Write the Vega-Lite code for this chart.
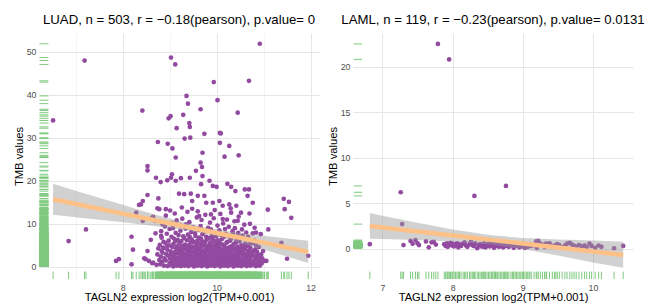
{
"$schema": "https://vega.github.io/schema/vega-lite/v6.json",
"padding": {"left": 13, "top": 13, "right": 0, "bottom": 0},
"spacing": 8,
"config": {
  "font": "Liberation Sans",
  "view": {"stroke": null},
  "axis": {"labelFont": "Liberation Sans", "titleFont": "Liberation Sans", "labelFontSize": 8.8, "labelColor": "#4d4d4d", "titleFontSize": 11.2, "titleFontWeight": "normal", "titleColor": "#000000", "domain": false, "ticks": false, "grid": true, "labelOverlap": false, "format": "d"},
  "title": {"font": "Liberation Sans", "fontSize": 13.2, "fontWeight": "normal", "color": "#000000", "anchor": "middle", "offset": 5.7}
},
"datasets": {
"luad": [
{"x":6.52,"y":34.0},{"x":7.19,"y":47.9},{"x":6.85,"y":6.0},{"x":7.22,"y":8.7},{"x":7.86,"y":1.4},{"x":7.92,"y":1.8},{"x":8.19,"y":0.6},{"x":8.19,"y":7.0},{"x":8.22,"y":4.0},{"x":8.29,"y":12.6},{"x":8.42,"y":36.3},{"x":8.39,"y":14.5},{"x":8.43,"y":15.3},{"x":8.43,"y":10.7},{"x":8.46,"y":2.0},{"x":8.53,"y":3.7},{"x":8.53,"y":23.4},{"x":8.53,"y":22.4},{"x":8.53,"y":16.7},{"x":8.56,"y":1.4},{"x":8.63,"y":0.85},{"x":8.60,"y":6.3},{"x":8.65,"y":11.6},{"x":8.69,"y":10.7},{"x":8.71,"y":20.7},{"x":8.75,"y":29.0},{"x":8.76,"y":15.9},{"x":8.78,"y":13.4},{"x":8.81,"y":19.7},{"x":8.82,"y":7.2},{"x":8.85,"y":9.9},{"x":8.92,"y":13.4},{"x":8.95,"y":4.9},{"x":8.96,"y":28.6},{"x":8.98,"y":34.5},{"x":9.02,"y":35.0},{"x":9.03,"y":48.6},{"x":9.03,"y":20.7},{"x":9.05,"y":21.5},{"x":9.06,"y":27.5},{"x":9.12,"y":47.0},{"x":9.13,"y":25.4},{"x":9.15,"y":32.2},{"x":9.13,"y":20.0},{"x":9.24,"y":20.6},{"x":9.20,"y":17.0},{"x":9.29,"y":35.3},{"x":9.32,"y":29.8},{"x":9.36,"y":39.7},{"x":9.39,"y":37.9},{"x":9.42,"y":33.4},{"x":9.43,"y":32.5},{"x":9.44,"y":30.0},{"x":9.43,"y":20.7},{"x":9.45,"y":17.0},{"x":9.48,"y":15.3},{"x":9.56,"y":22.3},{"x":9.66,"y":36.6},{"x":9.66,"y":24.2},{"x":9.69,"y":23.2},{"x":9.67,"y":19.2},{"x":9.70,"y":26.5},{"x":9.74,"y":30.9},{"x":9.85,"y":20.0},{"x":9.94,"y":42.9},{"x":10.02,"y":38.7},{"x":10.07,"y":31.1},{"x":10.07,"y":28.8},{"x":10.17,"y":25.6},{"x":10.27,"y":28.1},{"x":10.23,"y":19.3},{"x":10.45,"y":35.8},{"x":10.47,"y":25.9},{"x":10.69,"y":43.2},{"x":10.92,"y":51.8},{"x":10.60,"y":18.0},{"x":10.69,"y":18.0},{"x":10.77,"y":14.9},{"x":11.09,"y":13.3},{"x":11.10,"y":8.7},{"x":11.43,"y":15.8},{"x":11.54,"y":15.1},{"x":11.45,"y":13.4},{"x":11.59,"y":11.4},{"x":11.38,"y":5.6},{"x":11.50,"y":1.9},{"x":11.95,"y":2.6},{"x":11.06,"y":1.4},{"x":10.99,"y":3.7},{"x":9.70,"y":21.1},{"x":9.92,"y":18.8},{"x":10.00,"y":18.6},{"x":10.31,"y":18.6},{"x":10.40,"y":17.6},{"x":10.66,"y":16.5},{"x":9.31,"y":16.9},{"x":9.60,"y":16.5},{"x":9.74,"y":16.5},{"x":9.78,"y":14.9},{"x":9.92,"y":14.9},{"x":10.06,"y":15.3},{"x":10.13,"y":14.2},{"x":10.27,"y":14.5},{"x":10.42,"y":14.2},{"x":10.52,"y":12.6},{"x":10.31,"y":12.6},{"x":9.88,"y":12.2},{"x":9.63,"y":11.8},{"x":10.13,"y":11.1},{"x":10.45,"y":10.7},{"x":10.81,"y":9.1},{"x":10.84,"y":8.0},{"x":10.81,"y":6.0},{"x":11.02,"y":1.4},{"x":10.95,"y":2.9},{"x":10.70,"y":12.4},{"x":8.95,"y":20.1},{"x":8.35,"y":14.4},{"x":8.74,"y":13.6},{"x":8.63,"y":11.4},{"x":8.49,"y":1.8},{"x":8.65,"y":1.0},{"x":8.83,"y":3.7},{"x":8.86,"y":4.5},{"x":8.87,"y":5.8},{"x":10.09,"y":31.0},
{"x":8.80,"y":0.6},{"x":8.81,"y":2.4},{"x":8.79,"y":5.1},{"x":8.82,"y":8.3},
{"x":8.84,"y":1.2},{"x":8.85,"y":3.3},{"x":8.83,"y":6.8},
{"x":8.88,"y":0.3},{"x":8.89,"y":2.0},{"x":8.87,"y":4.4},{"x":8.90,"y":9.4},
{"x":8.92,"y":1.5},{"x":8.93,"y":3.0},{"x":8.91,"y":5.6},{"x":8.94,"y":7.7},{"x":8.92,"y":11.9},
{"x":8.96,"y":0.2},{"x":8.97,"y":2.6},{"x":8.95,"y":4.0},{"x":8.98,"y":6.1},
{"x":9.00,"y":0.9},{"x":9.01,"y":1.9},{"x":9.02,"y":3.6},{"x":8.99,"y":5.0},{"x":9.00,"y":8.8},{"x":9.01,"y":13.1},
{"x":9.04,"y":0.4},{"x":9.05,"y":1.4},{"x":9.03,"y":2.9},{"x":9.06,"y":4.6},{"x":9.04,"y":7.0},{"x":9.05,"y":10.2},
{"x":9.08,"y":0.1},{"x":9.09,"y":1.1},{"x":9.07,"y":2.3},{"x":9.10,"y":3.4},{"x":9.08,"y":5.3},{"x":9.09,"y":6.6},{"x":9.07,"y":9.0},
{"x":9.12,"y":0.7},{"x":9.13,"y":1.6},{"x":9.11,"y":2.8},{"x":9.14,"y":4.2},{"x":9.12,"y":5.9},{"x":9.13,"y":7.9},{"x":9.11,"y":12.4},
{"x":9.16,"y":0.3},{"x":9.17,"y":1.3},{"x":9.15,"y":2.1},{"x":9.18,"y":3.2},{"x":9.16,"y":4.8},{"x":9.17,"y":6.3},{"x":9.15,"y":10.8},
{"x":9.20,"y":0.5},{"x":9.21,"y":1.0},{"x":9.19,"y":1.8},{"x":9.22,"y":2.7},{"x":9.20,"y":3.9},{"x":9.21,"y":5.4},{"x":9.19,"y":7.4},{"x":9.22,"y":9.7},
{"x":9.24,"y":0.2},{"x":9.25,"y":1.2},{"x":9.23,"y":2.2},{"x":9.26,"y":3.5},{"x":9.24,"y":4.4},{"x":9.25,"y":6.0},{"x":9.23,"y":8.4},{"x":9.26,"y":13.8},
{"x":9.28,"y":0.8},{"x":9.29,"y":1.7},{"x":9.27,"y":2.5},{"x":9.30,"y":3.1},{"x":9.28,"y":4.9},{"x":9.29,"y":7.1},{"x":9.27,"y":11.2},
{"x":9.32,"y":0.3},{"x":9.33,"y":0.9},{"x":9.31,"y":2.0},{"x":9.34,"y":3.0},{"x":9.32,"y":4.1},{"x":9.33,"y":5.2},{"x":9.31,"y":6.7},{"x":9.34,"y":8.9},
{"x":9.36,"y":0.6},{"x":9.37,"y":1.5},{"x":9.35,"y":2.4},{"x":9.38,"y":3.7},{"x":9.36,"y":4.6},{"x":9.37,"y":6.2},{"x":9.35,"y":9.9},{"x":9.38,"y":12.8},
{"x":9.40,"y":0.2},{"x":9.41,"y":1.1},{"x":9.39,"y":1.9},{"x":9.42,"y":2.9},{"x":9.40,"y":3.8},{"x":9.41,"y":5.0},{"x":9.39,"y":7.5},{"x":9.42,"y":10.4},
{"x":9.44,"y":0.7},{"x":9.45,"y":1.4},{"x":9.43,"y":2.6},{"x":9.46,"y":3.3},{"x":9.44,"y":4.3},{"x":9.45,"y":5.7},{"x":9.43,"y":6.9},{"x":9.46,"y":8.1},
{"x":9.48,"y":0.4},{"x":9.49,"y":1.0},{"x":9.47,"y":1.7},{"x":9.50,"y":2.3},{"x":9.48,"y":3.6},{"x":9.49,"y":4.7},{"x":9.47,"y":6.4},{"x":9.50,"y":9.2},{"x":9.48,"y":13.5},
{"x":9.52,"y":0.1},{"x":9.53,"y":0.8},{"x":9.51,"y":1.6},{"x":9.54,"y":2.8},{"x":9.52,"y":3.4},{"x":9.53,"y":4.5},{"x":9.51,"y":5.8},{"x":9.54,"y":7.8},
{"x":9.56,"y":0.5},{"x":9.57,"y":1.3},{"x":9.55,"y":2.1},{"x":9.58,"y":3.0},{"x":9.56,"y":4.0},{"x":9.57,"y":5.3},{"x":9.55,"y":7.2},{"x":9.58,"y":11.5},
{"x":9.60,"y":0.3},{"x":9.61,"y":0.9},{"x":9.59,"y":1.8},{"x":9.62,"y":2.5},{"x":9.60,"y":3.5},{"x":9.61,"y":4.6},{"x":9.59,"y":6.1},{"x":9.62,"y":8.6},{"x":9.60,"y":12.9},
{"x":9.64,"y":0.6},{"x":9.65,"y":1.2},{"x":9.63,"y":2.2},{"x":9.66,"y":3.2},{"x":9.64,"y":4.2},{"x":9.65,"y":5.5},{"x":9.63,"y":6.8},{"x":9.66,"y":9.5},
{"x":9.68,"y":0.2},{"x":9.69,"y":1.0},{"x":9.67,"y":1.6},{"x":9.70,"y":2.7},{"x":9.68,"y":3.9},{"x":9.69,"y":4.9},{"x":9.67,"y":6.5},{"x":9.70,"y":7.6},{"x":9.68,"y":10.9},
{"x":9.72,"y":0.4},{"x":9.73,"y":1.4},{"x":9.71,"y":2.0},{"x":9.74,"y":2.9},{"x":9.72,"y":3.7},{"x":9.73,"y":5.1},{"x":9.71,"y":5.9},{"x":9.74,"y":8.2},
{"x":9.76,"y":0.7},{"x":9.77,"y":1.1},{"x":9.75,"y":1.9},{"x":9.78,"y":2.6},{"x":9.76,"y":3.3},{"x":9.77,"y":4.4},{"x":9.75,"y":5.6},{"x":9.78,"y":7.0},{"x":9.76,"y":12.1},
{"x":9.80,"y":0.1},{"x":9.81,"y":0.8},{"x":9.79,"y":1.5},{"x":9.82,"y":2.4},{"x":9.80,"y":3.6},{"x":9.81,"y":4.8},{"x":9.79,"y":6.3},{"x":9.82,"y":9.1},
{"x":9.84,"y":0.5},{"x":9.85,"y":1.3},{"x":9.83,"y":2.1},{"x":9.86,"y":3.1},{"x":9.84,"y":4.1},{"x":9.85,"y":5.3},{"x":9.83,"y":6.7},{"x":9.86,"y":10.3},
{"x":9.88,"y":0.3},{"x":9.89,"y":0.9},{"x":9.87,"y":1.7},{"x":9.90,"y":2.8},{"x":9.88,"y":3.4},{"x":9.89,"y":4.5},{"x":9.87,"y":5.7},{"x":9.90,"y":7.3},{"x":9.88,"y":8.7},
{"x":9.92,"y":0.6},{"x":9.93,"y":1.2},{"x":9.91,"y":2.3},{"x":9.94,"y":3.0},{"x":9.92,"y":4.0},{"x":9.93,"y":5.0},{"x":9.91,"y":6.6},{"x":9.94,"y":11.3},
{"x":9.96,"y":0.2},{"x":9.97,"y":1.0},{"x":9.95,"y":1.8},{"x":9.98,"y":2.5},{"x":9.96,"y":3.8},{"x":9.97,"y":4.7},{"x":9.95,"y":6.0},{"x":9.98,"y":7.9},{"x":9.96,"y":13.2},
{"x":10.00,"y":0.4},{"x":10.01,"y":1.4},{"x":9.99,"y":2.0},{"x":10.02,"y":3.2},{"x":10.00,"y":4.3},{"x":10.01,"y":5.4},{"x":9.99,"y":7.1},{"x":10.02,"y":9.6},
{"x":10.04,"y":0.7},{"x":10.05,"y":1.1},{"x":10.03,"y":1.9},{"x":10.06,"y":2.7},{"x":10.04,"y":3.5},{"x":10.05,"y":4.6},{"x":10.03,"y":6.2},{"x":10.06,"y":8.5},
{"x":10.08,"y":0.1},{"x":10.09,"y":0.9},{"x":10.07,"y":1.6},{"x":10.10,"y":2.4},{"x":10.08,"y":3.3},{"x":10.09,"y":4.2},{"x":10.07,"y":5.5},{"x":10.10,"y":7.4},{"x":10.08,"y":12.3},
{"x":10.12,"y":0.5},{"x":10.13,"y":1.3},{"x":10.11,"y":2.2},{"x":10.14,"y":2.9},{"x":10.12,"y":3.9},{"x":10.13,"y":5.2},{"x":10.11,"y":6.4},{"x":10.14,"y":10.1},
{"x":10.16,"y":0.3},{"x":10.17,"y":0.8},{"x":10.15,"y":1.7},{"x":10.18,"y":2.6},{"x":10.16,"y":3.7},{"x":10.17,"y":4.8},{"x":10.15,"y":6.9},{"x":10.18,"y":8.8},
{"x":10.20,"y":0.6},{"x":10.21,"y":1.2},{"x":10.19,"y":2.1},{"x":10.22,"y":3.1},{"x":10.20,"y":4.1},{"x":10.21,"y":5.6},{"x":10.19,"y":7.7},{"x":10.22,"y":11.0},
{"x":10.24,"y":0.2},{"x":10.25,"y":1.0},{"x":10.23,"y":1.8},{"x":10.26,"y":2.8},{"x":10.24,"y":3.6},{"x":10.25,"y":4.4},{"x":10.23,"y":5.8},{"x":10.26,"y":9.3},
{"x":10.28,"y":0.4},{"x":10.29,"y":1.5},{"x":10.27,"y":2.3},{"x":10.30,"y":3.4},{"x":10.28,"y":4.6},{"x":10.29,"y":6.1},{"x":10.27,"y":7.2},{"x":10.30,"y":13.6},
{"x":10.32,"y":0.8},{"x":10.33,"y":1.1},{"x":10.31,"y":1.9},{"x":10.34,"y":2.5},{"x":10.32,"y":3.8},{"x":10.33,"y":4.9},{"x":10.31,"y":6.6},{"x":10.34,"y":8.3},
{"x":10.36,"y":0.1},{"x":10.37,"y":0.9},{"x":10.35,"y":1.6},{"x":10.38,"y":3.0},{"x":10.36,"y":4.0},{"x":10.37,"y":5.3},{"x":10.35,"y":7.6},{"x":10.38,"y":10.6},
{"x":10.40,"y":0.5},{"x":10.41,"y":1.3},{"x":10.39,"y":2.2},{"x":10.42,"y":2.9},{"x":10.40,"y":4.3},{"x":10.41,"y":5.7},{"x":10.39,"y":9.0},
{"x":10.44,"y":0.3},{"x":10.45,"y":1.0},{"x":10.43,"y":1.8},{"x":10.46,"y":2.7},{"x":10.44,"y":3.5},{"x":10.45,"y":4.7},{"x":10.43,"y":6.3},{"x":10.46,"y":7.9},
{"x":10.48,"y":0.7},{"x":10.49,"y":1.4},{"x":10.47,"y":2.4},{"x":10.50,"y":3.3},{"x":10.48,"y":4.2},{"x":10.49,"y":5.9},{"x":10.47,"y":11.7},
{"x":10.52,"y":0.2},{"x":10.53,"y":1.1},{"x":10.51,"y":2.0},{"x":10.54,"y":3.1},{"x":10.52,"y":3.9},{"x":10.53,"y":5.0},{"x":10.51,"y":6.8},{"x":10.54,"y":8.7},
{"x":10.56,"y":0.4},{"x":10.57,"y":1.2},{"x":10.55,"y":1.7},{"x":10.58,"y":2.6},{"x":10.56,"y":3.6},{"x":10.57,"y":4.5},{"x":10.55,"y":7.3},
{"x":10.60,"y":0.6},{"x":10.61,"y":0.9},{"x":10.59,"y":1.9},{"x":10.62,"y":2.8},{"x":10.60,"y":4.1},{"x":10.61,"y":5.4},{"x":10.59,"y":9.8},
{"x":10.64,"y":0.2},{"x":10.65,"y":1.3},{"x":10.63,"y":2.3},{"x":10.66,"y":3.4},{"x":10.64,"y":4.8},{"x":10.65,"y":6.5},{"x":10.63,"y":8.0},
{"x":10.68,"y":0.5},{"x":10.69,"y":1.0},{"x":10.67,"y":1.8},{"x":10.70,"y":2.9},{"x":10.68,"y":3.8},{"x":10.69,"y":5.2},{"x":10.67,"y":7.0},
{"x":10.72,"y":0.3},{"x":10.73,"y":1.4},{"x":10.71,"y":2.1},{"x":10.74,"y":3.2},{"x":10.72,"y":4.4},{"x":10.73,"y":6.0},{"x":10.71,"y":10.0},
{"x":10.76,"y":0.7},{"x":10.77,"y":1.1},{"x":10.75,"y":2.5},{"x":10.78,"y":3.7},{"x":10.76,"y":5.5},{"x":10.77,"y":7.8},
{"x":10.80,"y":0.4},{"x":10.81,"y":1.6},{"x":10.79,"y":2.7},{"x":10.82,"y":4.0},{"x":10.80,"y":6.2},
{"x":10.84,"y":0.2},{"x":10.85,"y":1.2},{"x":10.83,"y":2.2},{"x":10.86,"y":3.5},{"x":10.84,"y":5.0},
{"x":10.88,"y":0.6},{"x":10.89,"y":1.8},{"x":10.87,"y":3.0},{"x":10.90,"y":4.6},
{"x":10.92,"y":0.3},{"x":10.93,"y":1.3},{"x":10.91,"y":2.4},{"x":10.94,"y":7.6},
{"x":10.96,"y":0.8},{"x":10.97,"y":2.0},
{"x":8.72,"y":0.5},{"x":8.74,"y":2.9},{"x":8.76,"y":4.3},{"x":8.70,"y":7.8},{"x":8.78,"y":1.6}
],
"luadfit": [
{"x":6.52,"fit":15.70,"lo":12.10,"hi":19.30},{"x":7.0,"fit":14.62,"lo":11.54,"hi":17.71},{"x":7.5,"fit":13.50,"lo":10.94,"hi":16.05},{"x":8.0,"fit":12.38,"lo":10.35,"hi":14.41},{"x":8.5,"fit":11.25,"lo":9.72,"hi":12.78},{"x":9.0,"fit":10.13,"lo":9.04,"hi":11.22},{"x":9.5,"fit":9.01,"lo":8.23,"hi":9.79},{"x":9.72,"fit":8.51,"lo":7.77,"hi":9.25},{"x":10.0,"fit":7.88,"lo":7.08,"hi":8.68},{"x":10.5,"fit":6.76,"lo":5.63,"hi":7.89},{"x":11.0,"fit":5.64,"lo":4.05,"hi":7.23},{"x":11.5,"fit":4.51,"lo":2.42,"hi":6.61},{"x":11.95,"fit":3.50,"lo":0.94,"hi":6.06}
],
"laml": [
{"x":7.79,"y":22.5},{"x":7.95,"y":20.8},{"x":7.26,"y":6.2},{"x":8.31,"y":5.8},{"x":8.76,"y":6.9},{"x":7.28,"y":2.7},{"x":6.82,"y":0.5},
{"x":7.30,"y":0.40},{"x":7.40,"y":0.85},{"x":7.43,"y":0.55},{"x":7.47,"y":0.95},{"x":7.50,"y":0.60},{"x":7.52,"y":0.40},{"x":7.62,"y":0.80},{"x":7.66,"y":0.15},{"x":7.70,"y":0.70},{"x":7.73,"y":0.75},{"x":7.76,"y":0.45},{"x":7.88,"y":0.50},{"x":7.90,"y":0.30},{"x":7.92,"y":0.60},{"x":7.93,"y":0.20},{"x":7.95,"y":0.40},{"x":7.97,"y":0.65},{"x":7.99,"y":0.35},{"x":8.00,"y":0.55},{"x":8.02,"y":0.25},{"x":8.04,"y":0.45},{"x":8.06,"y":0.60},{"x":8.08,"y":0.15},{"x":8.10,"y":0.40},{"x":8.12,"y":0.30},{"x":8.15,"y":0.55},{"x":8.17,"y":0.70},{"x":8.19,"y":0.35},{"x":8.21,"y":0.20},{"x":8.24,"y":0.50},{"x":8.26,"y":0.75},{"x":8.28,"y":0.40},{"x":8.30,"y":0.30},{"x":8.32,"y":0.60},{"x":8.35,"y":0.05},{"x":8.37,"y":0.35},{"x":8.39,"y":0.50},{"x":8.41,"y":0.25},{"x":8.43,"y":0.45},{"x":8.45,"y":0.60},{"x":8.47,"y":0.15},{"x":8.49,"y":0.35},{"x":8.51,"y":0.55},{"x":8.53,"y":0.25},{"x":8.55,"y":0.70},{"x":8.57,"y":0.40},{"x":8.59,"y":0.10},{"x":8.60,"y":0.50},{"x":8.62,"y":0.30},{"x":8.64,"y":0.65},{"x":8.66,"y":0.20},{"x":8.68,"y":0.45},{"x":8.70,"y":0.35},{"x":8.72,"y":0.15},{"x":8.74,"y":0.55},{"x":8.76,"y":0.30},{"x":8.78,"y":0.45},{"x":8.80,"y":0.20},{"x":8.83,"y":0.60},{"x":8.85,"y":0.35},{"x":8.87,"y":0.10},{"x":8.89,"y":0.50},{"x":8.91,"y":0.30},{"x":8.93,"y":0.40},{"x":8.95,"y":0.15},{"x":8.97,"y":0.55},{"x":8.99,"y":0.25},{"x":9.01,"y":0.35},{"x":9.03,"y":0.10},{"x":9.05,"y":0.45},{"x":9.07,"y":0.20},{"x":9.10,"y":0.50},{"x":9.12,"y":0.30},{"x":9.16,"y":0.40},{"x":9.19,"y":0.80},{"x":9.22,"y":0.85},{"x":9.25,"y":0.55},{"x":9.28,"y":0.45},{"x":9.31,"y":0.20},{"x":9.34,"y":0.35},{"x":9.38,"y":0.60},{"x":9.42,"y":0.30},{"x":9.45,"y":0.25},{"x":9.49,"y":0.50},{"x":9.52,"y":0.40},{"x":9.56,"y":0.15},{"x":9.60,"y":0.35},{"x":9.63,"y":0.55},{"x":9.67,"y":0.65},{"x":9.70,"y":0.45},{"x":9.73,"y":0.30},{"x":9.76,"y":0.20},{"x":9.80,"y":0.40},{"x":9.84,"y":0.25},{"x":9.88,"y":0.35},{"x":9.91,"y":0.15},{"x":9.95,"y":0.55},{"x":9.98,"y":0.30},{"x":10.03,"y":0.10},{"x":10.08,"y":0.35},{"x":10.12,"y":0.20},{"x":10.30,"y":0.05},{"x":10.43,"y":0.30},
{"x":8.09,"y":0.50},{"x":8.44,"y":0.20},{"x":8.56,"y":0.55},{"x":8.61,"y":0.40},{"x":8.73,"y":0.25},{"x":8.86,"y":0.45},{"x":9.00,"y":0.55},{"x":9.09,"y":0.30},{"x":9.20,"y":0.10},{"x":9.33,"y":0.55},{"x":9.47,"y":0.40}
],
"lamlfit": [
{"x":6.82,"fit":2.50,"lo":1.09,"hi":3.91},{"x":7.0,"fit":2.34,"lo":1.06,"hi":3.62},{"x":7.5,"fit":1.90,"lo":0.95,"hi":2.84},{"x":8.0,"fit":1.45,"lo":0.79,"hi":2.11},{"x":8.55,"fit":0.97,"lo":0.46,"hi":1.48},{"x":9.0,"fit":0.57,"lo":-0.04,"hi":1.18},{"x":9.5,"fit":0.13,"lo":-0.75,"hi":1.01},{"x":10.0,"fit":-0.32,"lo":-1.53,"hi":0.89},{"x":10.43,"fit":-0.70,"lo":-2.10,"hi":0.75}
]
},
"hconcat": [
{
 "width": 280, "height": 246,
 "title": {"text": "LUAD, n = 503, r = −0.18(pearson), p.value= 0"},
 "layer": [
  {"data": {"name": "luad"}, "mark": {"type": "circle", "color": "#924AA0", "opacity": 1, "size": 22},
   "encoding": {
    "x": {"field": "x", "type": "quantitative", "scale": {"domain": [6.22, 12.18], "nice": false, "zero": false},
      "axis": {"title": "TAGLN2 expression log2(TPM+0.001)", "values": [7, 8, 9, 10, 11, 12], "labelExpr": "datum.value % 2 === 0 ? datum.label : ''", "labelOverlap": false, "labelPadding": 4, "titlePadding": 0,
        "gridColor": {"condition": {"test": "datum.value % 2 === 0", "value": "#e6e6e6"}, "value": "#efefef"},
        "gridWidth": {"condition": {"test": "datum.value % 2 === 0", "value": 1}, "value": 0.6}}},
    "y": {"field": "y", "type": "quantitative", "scale": {"domain": [-2.8, 54.3], "nice": false, "zero": false},
      "axis": {"title": "TMB values", "values": [0, 5, 10, 15, 20, 25, 30, 35, 40, 45, 50], "labelExpr": "datum.value % 10 === 0 ? datum.label : ''", "labelOverlap": false, "labelPadding": 3, "titlePadding": 2,
        "gridColor": {"condition": {"test": "datum.value % 10 === 0", "value": "#e6e6e6"}, "value": "#efefef"},
        "gridWidth": {"condition": {"test": "datum.value % 10 === 0", "value": 1}, "value": 0.6}}}}},
  {"data": {"name": "luad"}, "mark": {"type": "rule", "color": "#7FC97F", "strokeWidth": 1},
   "encoding": {
    "y": {"field": "y", "type": "quantitative"},
    "x": {"datum": 6.23, "type": "quantitative"},
    "x2": {"datum": 6.42}}},
  {"data": {"name": "luad"}, "mark": {"type": "rule", "color": "#7FC97F", "strokeWidth": 1},
   "encoding": {
    "x": {"field": "x", "type": "quantitative"},
    "y": {"datum": -2.8, "type": "quantitative"},
    "y2": {"datum": -1.09}}},
  {"data": {"name": "luadfit"}, "mark": {"type": "area", "color": "#999999", "opacity": 0.45},
   "encoding": {
    "x": {"field": "x", "type": "quantitative"},
    "y": {"field": "lo", "type": "quantitative"},
    "y2": {"field": "hi"}}},
  {"data": {"name": "luadfit"}, "mark": {"type": "line", "color": "#FDC086", "strokeWidth": 4.5},
   "encoding": {
    "x": {"field": "x", "type": "quantitative"},
    "y": {"field": "fit", "type": "quantitative"}}}
 ]
},
{
 "width": 280, "height": 246,
 "title": {"text": "LAML, n = 119, r = −0.23(pearson), p.value= 0.0131"},
 "layer": [
  {"data": {"name": "laml"}, "mark": {"type": "circle", "color": "#924AA0", "opacity": 1, "size": 22},
   "encoding": {
    "x": {"field": "x", "type": "quantitative", "scale": {"domain": [6.58, 10.57], "nice": false, "zero": false},
      "axis": {"title": "TAGLN2 expression log2(TPM+0.001)", "values": [7, 7.5, 8, 8.5, 9, 9.5, 10, 10.5], "labelExpr": "datum.value % 1 === 0 ? datum.label : ''", "labelOverlap": false, "labelPadding": 4, "titlePadding": 0,
        "gridColor": {"condition": {"test": "datum.value % 1 === 0", "value": "#e6e6e6"}, "value": "#efefef"},
        "gridWidth": {"condition": {"test": "datum.value % 1 === 0", "value": 1}, "value": 0.6}}},
    "y": {"field": "y", "type": "quantitative", "scale": {"domain": [-3.33, 23.7], "nice": false, "zero": false},
      "axis": {"title": "TMB values", "values": [0, 5, 10, 15, 20], "labelOverlap": false, "labelPadding": 3, "titlePadding": 2, "gridColor": "#e6e6e6", "gridWidth": 1}}}},
  {"data": {"name": "laml"}, "mark": {"type": "rule", "color": "#7FC97F", "strokeWidth": 1},
   "encoding": {
    "y": {"field": "y", "type": "quantitative"},
    "x": {"datum": 6.59, "type": "quantitative"},
    "x2": {"datum": 6.71}}},
  {"data": {"name": "laml"}, "mark": {"type": "rule", "color": "#7FC97F", "strokeWidth": 1},
   "encoding": {
    "x": {"field": "x", "type": "quantitative"},
    "y": {"datum": -3.33, "type": "quantitative"},
    "y2": {"datum": -2.52}}},
  {"data": {"name": "lamlfit"}, "mark": {"type": "area", "color": "#999999", "opacity": 0.45},
   "encoding": {
    "x": {"field": "x", "type": "quantitative"},
    "y": {"field": "lo", "type": "quantitative"},
    "y2": {"field": "hi"}}},
  {"data": {"name": "lamlfit"}, "mark": {"type": "line", "color": "#FDC086", "strokeWidth": 4.5},
   "encoding": {
    "x": {"field": "x", "type": "quantitative"},
    "y": {"field": "fit", "type": "quantitative"}}}
 ]
}
]
}
